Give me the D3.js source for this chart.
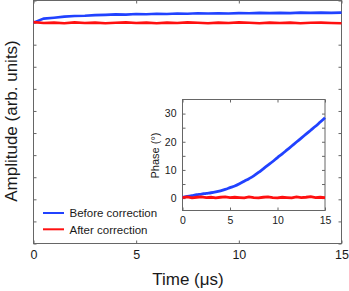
<!DOCTYPE html>
<html>
<head>
<meta charset="utf-8">
<script src="https://cdn.jsdelivr.net/npm/d3@7"></script>
<style>
  body { margin: 0; background: #fff; }
  svg { display: block; font-family: "Liberation Sans", Arial, sans-serif; }
</style>
</head>
<body>
<script>
const width = 349, height = 291;

// main plot data (time in us, normalized amplitude)
const timeMain = d3.range(0, 15.01, 0.5);
const ampBefore = [1.000, 1.018, 1.022, 1.027, 1.030, 1.031, 1.034, 1.035, 1.037, 1.036, 1.039,
                   1.038, 1.040, 1.039, 1.041, 1.040, 1.042, 1.041, 1.042, 1.041, 1.043,
                   1.042, 1.044, 1.043, 1.044, 1.043, 1.045, 1.044, 1.045, 1.044, 1.045];
const ampAfter = [1.002, 0.998, 1.000, 0.997, 1.001, 0.998, 1.000, 0.997, 0.999, 1.001, 0.998,
                  1.000, 0.997, 1.000, 0.998, 1.001, 0.999, 0.997, 1.000, 0.998, 1.001,
                  0.999, 0.997, 1.000, 0.998, 1.000, 0.997, 0.999, 1.000, 0.998, 0.997];

// inset data (phase in degrees)
const timeInset = d3.range(0, 15.01, 0.5);
const phaseBefore = [0.3, 0.6, 0.9, 1.2, 1.4, 1.7, 1.9, 2.2, 2.6, 3.1, 3.7,
                     4.3, 5.1, 6.0, 6.9, 7.9, 9.1, 10.4, 11.7, 13.0, 14.4,
                     15.7, 17.1, 18.5, 19.9, 21.3, 22.7, 24.1, 25.5, 27.0, 28.5];
const phaseAfter = [0.2, 0.4, 0.1, 0.3, 0.4, 0.2, 0.3, 0.1, 0.3, 0.4, 0.2,
                    0.3, 0.2, 0.1, 0.4, 0.2, 0.1, 0.3, 0.4, 0.2, 0.1,
                    0.3, 0.2, 0.1, 0.4, 0.2, 0.3, 0.5, 0.2, 0.3, 0.2];

const xTicks = [0, 5, 10, 15];
const ampTicks = d3.range(0, 1.101, 0.1);
const phaseTicks = [0, 10, 20, 30];
const phaseMinor = [0, 5, 10, 15, 20, 25, 30];
const legendLabels = ["Before correction", "After correction"];

const blue = "#2142ff", red = "#ff1010", frame = "#666", ink = "#1a1a1a";

const svg = d3.select("body").append("svg")
    .attr("width", width)
    .attr("height", height);

// ---- main plot ----
const m = { left: 33.5, right: 341.5, top: 0.5, bottom: 243.5 };
const x = d3.scaleLinear().domain([0, 15]).range([m.left, m.right]);
const y = d3.scaleLinear().domain([0, 1.1]).range([m.bottom, m.top]);

const main = svg.append("g");

// inward ticks on all four sides, no y labels
const bottomAxis = d3.axisBottom(x).tickValues(xTicks).tickSize(-3).tickPadding(7);
const gx = main.append("g").attr("transform", `translate(0,${m.bottom})`).call(bottomAxis);
gx.selectAll("text").attr("font-size", 12.5).attr("fill", ink).attr("font-family", null);
main.append("g").attr("transform", `translate(0,${m.top})`)
    .call(d3.axisTop(x).tickValues(xTicks).tickSize(-3).tickFormat(""));
main.append("g").attr("transform", `translate(${m.left},0)`)
    .call(d3.axisLeft(y).tickValues(ampTicks).tickSize(-3).tickFormat(""));
main.append("g").attr("transform", `translate(${m.right},0)`)
    .call(d3.axisRight(y).tickValues(ampTicks).tickSize(-3).tickFormat(""));
main.selectAll(".domain").remove();
main.selectAll(".tick line").attr("stroke", frame);

main.append("rect")
    .attr("x", m.left).attr("y", m.top)
    .attr("width", m.right - m.left).attr("height", m.bottom - m.top)
    .attr("fill", "none").attr("stroke", frame);

const lineMain = d3.line().x((d, i) => x(timeMain[i])).y(d => y(d));
main.append("path").datum(ampBefore).attr("d", lineMain)
    .attr("fill", "none").attr("stroke", blue).attr("stroke-width", 2.6);
main.append("path").datum(ampAfter).attr("d", lineMain)
    .attr("fill", "none").attr("stroke", red).attr("stroke-width", 2.6);

svg.append("text")
    .attr("x", (m.left + m.right) / 2 + 0.5).attr("y", 285)
    .attr("text-anchor", "middle").attr("font-size", 17).attr("fill", ink)
    .text("Time (μs)");
svg.append("text")
    .attr("transform", "translate(17,121) rotate(-90)")
    .attr("text-anchor", "middle").attr("font-size", 17).attr("fill", ink)
    .text("Amplitude (arb. units)");

// legend
const legend = svg.append("g");
[blue, red].forEach((c, i) => {
    const ly = 213 + i * 16.3;
    legend.append("line").attr("x1", 43).attr("x2", 64).attr("y1", ly).attr("y2", ly)
        .attr("stroke", c).attr("stroke-width", 2);
    legend.append("text").attr("x", 69.5).attr("y", ly + 4.2)
        .attr("font-size", 11.5).attr("fill", ink).text(legendLabels[i]);
});

// ---- inset ----
const n = { left: 182.5, right: 325, top: 99.5, bottom: 210.5 };
const xi = d3.scaleLinear().domain([0, 15]).range([n.left, n.right]);
const yi = d3.scaleLinear().domain([-4.4, 35]).range([n.bottom, n.top]);

const inset = svg.append("g");
inset.append("rect")
    .attr("x", n.left).attr("y", n.top)
    .attr("width", n.right - n.left).attr("height", n.bottom - n.top)
    .attr("fill", "#fff");

const gxi = inset.append("g").attr("transform", `translate(0,${n.bottom})`)
    .call(d3.axisBottom(xi).tickValues(xTicks).tickSize(-3).tickPadding(6));
gxi.selectAll("text").attr("font-size", 10.5).attr("fill", ink).attr("font-family", null);
inset.append("g").attr("transform", `translate(0,${n.top})`)
    .call(d3.axisTop(xi).tickValues(xTicks).tickSize(-3).tickFormat(""));
inset.append("g").attr("transform", `translate(${n.left},0)`)
    .call(d3.axisLeft(yi).tickValues(phaseMinor).tickSize(-3).tickFormat(""));
inset.append("g").attr("transform", `translate(${n.right},0)`)
    .call(d3.axisRight(yi).tickValues(phaseMinor).tickSize(-3).tickFormat(""));
const gyi = inset.append("g").attr("transform", `translate(${n.left},0)`)
    .call(d3.axisLeft(yi).tickValues(phaseTicks).tickSize(0).tickPadding(6));
gyi.selectAll("text").attr("font-size", 10.5).attr("fill", ink).attr("font-family", null);
inset.selectAll(".domain").remove();
inset.selectAll(".tick line").attr("stroke", frame);

inset.append("rect")
    .attr("x", n.left).attr("y", n.top)
    .attr("width", n.right - n.left).attr("height", n.bottom - n.top)
    .attr("fill", "none").attr("stroke", frame);

const phaseLine = d3.line().x((d, i) => xi(timeInset[i])).y(d => yi(d));
inset.append("path").datum(phaseBefore).attr("d", phaseLine.curve(d3.curveMonotoneX))
    .attr("fill", "none").attr("stroke", blue).attr("stroke-width", 2.8);
inset.append("path").datum(phaseAfter).attr("d", phaseLine.curve(d3.curveLinear))
    .attr("fill", "none").attr("stroke", red).attr("stroke-width", 2.8);

svg.append("text")
    .attr("transform", "translate(159,155.5) rotate(-90)")
    .attr("text-anchor", "middle").attr("font-size", 11).attr("fill", ink)
    .text("Phase (°)");
</script>
</body>
</html>
